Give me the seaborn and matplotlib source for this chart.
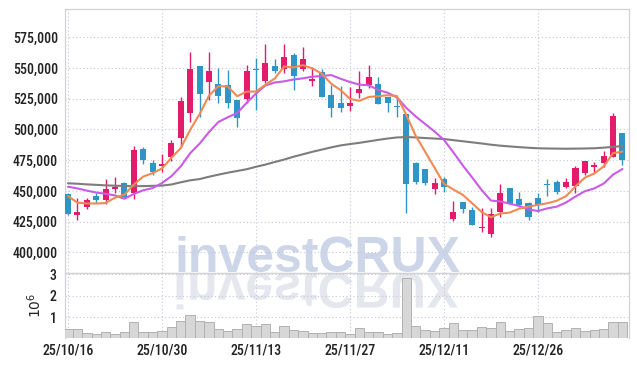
import numpy as np
import pandas as pd
import matplotlib
matplotlib.use("Agg")
import matplotlib.pyplot as plt
import seaborn as sns
from matplotlib import font_manager
from matplotlib.textpath import TextPath
from matplotlib.font_manager import FontProperties
from matplotlib.patches import PathPatch
from matplotlib.transforms import Affine2D
from matplotlib.ticker import FuncFormatter

# ---------------- data ----------------
dates = ["25/10/16", "25/10/17", "25/10/20", "25/10/21", "25/10/22", "25/10/23", "25/10/24",
         "25/10/27", "25/10/28", "25/10/29", "25/10/30", "25/10/31", "25/11/03", "25/11/04",
         "25/11/05", "25/11/06", "25/11/07", "25/11/10", "25/11/11", "25/11/12", "25/11/13",
         "25/11/14", "25/11/17", "25/11/18", "25/11/19", "25/11/20", "25/11/21", "25/11/24",
         "25/11/25", "25/11/26", "25/11/27", "25/11/28", "25/12/01", "25/12/02", "25/12/03",
         "25/12/04", "25/12/05", "25/12/08", "25/12/09", "25/12/10", "25/12/11", "25/12/12",
         "25/12/15", "25/12/16", "25/12/17", "25/12/18", "25/12/19", "25/12/22", "25/12/23",
         "25/12/24", "25/12/26", "25/12/29", "25/12/30", "26/01/02", "26/01/05", "26/01/06",
         "26/01/07", "26/01/08", "26/01/09", "26/01/12"]

opens = [447500, 430600, 437100, 445800, 442500, 451500, 456200, 448000, 484100, 472900,
         470500, 477300, 492800, 513100, 551600, 538900, 537000, 536200, 524000, 525000,
         549200, 539400, 551600, 549400, 560600, 549400, 539400, 547000, 528000, 521300,
         519300, 529900, 536200, 537000, 526200, 519300, 512600, 472900, 467800, 451800,
         459400, 427100, 440900, 434400, 419800, 415100, 433000, 452100, 443100, 439900,
         443900, 455600, 457200, 452900, 454200, 464800, 469700, 472900, 477800, 496900]
highs = [448000, 444000, 443900, 448500, 459400, 461300, 457000, 486500, 486000, 475100,
         479800, 491400, 526600, 562800, 551600, 562800, 549800, 548400, 524000, 552500,
         557900, 569500, 557100, 569500, 562000, 566900, 550600, 549000, 536200, 535600,
         534800, 547800, 552200, 542400, 526200, 526200, 512600, 473500, 468000, 460200,
         461000, 441700, 441200, 437000, 435800, 435800, 455400, 452500, 449300, 441200,
         448000, 459400, 458800, 460800, 470200, 474300, 473700, 482700, 513100, 497300]
lows = [430500, 426300, 435000, 440400, 439300, 448500, 444500, 443100, 471900, 462700,
        465400, 474100, 486000, 505800, 510400, 524000, 521300, 517200, 501700, 521800,
        515800, 537600, 545700, 546200, 532100, 547800, 535400, 526200, 509900, 514400,
        515300, 525300, 533500, 520700, 514400, 510400, 432200, 455600, 455000, 447200,
        449300, 425700, 432200, 422500, 416300, 412700, 428500, 439100, 436600, 426300,
        433000, 445800, 447200, 452500, 448000, 462700, 464300, 469700, 477300, 471100]
closes = [431200, 432800, 442500, 442500, 451500, 453100, 445200, 483300, 475100, 465400,
          472100, 488700, 523100, 549200, 529100, 547600, 527200, 521800, 509600, 547600,
          548100, 554300, 547800, 558700, 543700, 557100, 541100, 526600, 517700, 517700,
          521500, 532900, 542400, 520700, 521800, 518300, 455600, 457200, 456700, 456400,
          452900, 432600, 435500, 422500, 420800, 431200, 448000, 439100, 438300, 429000,
          438700, 454500, 449300, 457000, 468900, 474300, 471100, 478400, 510900, 475100]
# volume in millions of shares
volume_m = [0.44, 0.44, 0.23, 0.19, 0.28, 0.19, 0.28, 0.75, 0.28, 0.28,
            0.33, 0.52, 0.80, 1.08, 0.80, 0.75, 0.42, 0.33, 0.42, 0.66,
            0.56, 0.66, 0.28, 0.56, 0.38, 0.33, 0.23, 0.27, 0.28, 0.28,
            0.20, 0.47, 0.31, 0.31, 0.18, 0.27, 2.81, 0.57, 0.39, 0.33,
            0.47, 0.71, 0.39, 0.39, 0.52, 0.47, 0.76, 0.33, 0.42, 0.47,
            1.04, 0.71, 0.28, 0.38, 0.47, 0.33, 0.38, 0.42, 0.76, 0.76]
# first values of the moving averages (they depend on sessions before the chart)
ma5_head = [445800, 440400, 439800, 439700]
ma10_head = [453400, 452000, 450200, 448700, 447600, 446300, 443600, 447500, 450500]
# long moving average (grey line), read per session
ma_long = [456200, 455800, 455300, 454900, 454500, 454200, 454000, 453800, 453900, 454100,
           454300, 455200, 457000, 458600, 459600, 461500, 463200, 464800, 466200, 467600,
           469600, 471400, 473500, 475500, 477800, 479800, 481800, 483600, 485400, 487000,
           488100, 489100, 490300, 491500, 492600, 493500, 493800, 493500, 493000, 492600,
           492200, 491300, 490400, 489500, 488600, 487600, 486800, 486200, 485600, 485100,
           484700, 484500, 484400, 484300, 484400, 484500, 484700, 485200, 485800, 486500]
price_ticks = [400000, 425000, 450000, 475000, 500000, 525000, 550000, 575000]
volume_ticks = [1, 2, 3]
label_every = 10
watermark = "investCRUX"

# ---------------- styling ----------------
RED = "#e41b6b"
BLUE = "#2e95c6"
ORANGE = "#f08a52"
PURPLE = "#c95be6"
GREY = "#7d7d7d"
GRID = "#c2c8dc"
SPINE = "#d2d2d2"
WM = "#cdd5e8"
WM_REFL = "#e5e7ef"

sns.set_theme(style="white")
avail = {f.name for f in font_manager.fontManager.ttflist}
tick_font = "Roboto"
for cand in ["Liberation Sans Narrow", "Roboto Condensed", "Arial Narrow", "Roboto"]:
    if cand in avail:
        tick_font = cand
        break
plt.rcParams["font.family"] = [tick_font, "DejaVu Sans"]
TICK_SIZE = 10
TICK_WEIGHT = "medium"

W, H = 637, 366
fig = plt.figure(figsize=(W / 100, H / 100), dpi=100)
left, right = 65 / W, 628.5 / W
y_top, y_sep, y_bot = 9.3, 272.7, 338.3
ax = fig.add_axes([left, 1 - y_sep / H, right - left, (y_sep - y_top) / H])
axv = fig.add_axes([left, 1 - y_bot / H, right - left, (y_bot - y_sep) / H])

df = pd.DataFrame({"date": dates, "open": opens, "high": highs, "low": lows,
                   "close": closes, "volume": volume_m, "ma_long": ma_long})
df["x"] = np.arange(len(df))
ma5 = df["close"].rolling(5).mean()
ma5.iloc[:len(ma5_head)] = ma5_head
ma10 = df["close"].rolling(10).mean()
ma10.iloc[:len(ma10_head)] = ma10_head
df["ma5"] = ma5
df["ma10"] = ma10

# watermark
ax.text(317.7 / W, 1 - 271.7 / H, watermark, transform=fig.transFigure,
        ha="center", va="baseline", fontsize=36, fontweight="bold",
        family=["Liberation Sans", "DejaVu Sans"], color=WM, zorder=0.2)
fp = FontProperties(family=["Liberation Sans", "DejaVu Sans"], weight="bold")
tp = TextPath((0, 0), watermark, size=50, prop=fp)
ext = tp.get_extents()
x0 = 317.7 - (ext.x0 + ext.width / 2)
refl = PathPatch(tp, facecolor=WM_REFL, edgecolor="none", zorder=0.2,
                 transform=Affine2D().scale(1, -1).translate(x0, H - 273.2))
axv.add_artist(refl)

# candles
up = df["close"] >= df["open"]
cols = np.where(up, RED, BLUE)
ax.vlines(df["x"], df["low"], df["high"], colors=cols, linewidth=1.0, zorder=3)
body = (df["close"] - df["open"]).abs()
minh = 1000
mid = (df["close"] + df["open"]) / 2
bh = np.maximum(body, minh)
ax.bar(df["x"], bh, bottom=mid - bh / 2, width=0.64, color=cols, linewidth=0, zorder=4)

# moving averages
sns.lineplot(data=df, x="x", y="ma_long", ax=ax, color=GREY, linewidth=1.5, zorder=5)
sns.lineplot(data=df, x="x", y="ma10", ax=ax, color=PURPLE, linewidth=1.5, zorder=6)
sns.lineplot(data=df, x="x", y="ma5", ax=ax, color=ORANGE, linewidth=1.5, zorder=7)

# volume
sns.barplot(data=df, x="x", y="volume", ax=axv, color="#d7d7d7", edgecolor="#b1b1b1",
            linewidth=0.7, width=1.0, saturation=1, zorder=3)

xlim = (-0.32, len(df) - 1 + 0.64)
tick_pos = list(range(0, len(df), label_every))
for a in (ax, axv):
    a.set_xlim(*xlim)
    a.set_xticks(tick_pos)
    a.grid(True, linestyle=(0, (1, 2.2)), color=GRID, linewidth=0.8)
    a.set_axisbelow(True)
    a.tick_params(length=0, labelsize=TICK_SIZE, labelcolor="#222222")
    for s in a.spines.values():
        s.set_color(SPINE)
        s.set_linewidth(0.9)
    a.set_xlabel("")
    a.set_ylabel("")

ax.set_ylim(383400, 597800)
ax.set_yticks(price_ticks)
ax.yaxis.set_major_formatter(FuncFormatter(lambda v, p: f"{v:,.0f}"))
ax.tick_params(axis="y", pad=5)
ax.set_xticklabels([])

axv.set_ylim(0, 3.08)
axv.set_yticks(volume_ticks)
axv.set_yticklabels([str(v) for v in volume_ticks])
axv.set_xticklabels([dates[i] for i in tick_pos])
axv.tick_params(axis="x", pad=4)
axv.tick_params(axis="y", pad=6)
axv.spines["bottom"].set_visible(False)
axv.set_ylabel(r"$10^6$", fontsize=10, color="#222222", labelpad=4)

for lab in ax.get_yticklabels() + axv.get_yticklabels() + axv.get_xticklabels():
    lab.set_fontweight(TICK_WEIGHT)

fig.savefig("out.png", dpi=100)
